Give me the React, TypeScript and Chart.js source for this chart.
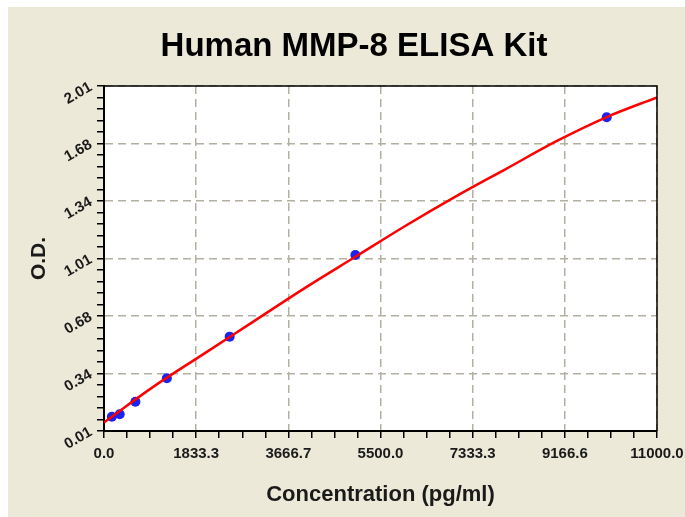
import React, { useEffect, useRef } from 'react';
import { Chart, registerables } from 'chart.js';

Chart.register(...registerables);

const titleText = 'Human MMP-8 ELISA Kit';
const xAxisTitle = 'Concentration (pg/ml)';
const yAxisTitle = 'O.D.';

// standard points
const stdConc = [156.25, 312.5, 625, 1250, 2500, 5000, 10000];
const stdOD = [0.093, 0.107, 0.18, 0.316, 0.557, 1.03, 1.829];

// fitted curve
const curveConc = [0, 1000, 2000, 3000, 4000, 5000, 6000, 7000, 8000, 9000, 10000, 11000];
const curveOD = [0.06, 0.27, 0.46, 0.65, 0.84, 1.02, 1.2, 1.37, 1.53, 1.69, 1.83, 1.944];

// axis ticks
const xTickValues = [0, 1833.33, 3666.67, 5500, 7333.33, 9166.67, 11000];
const xTickLabels = ['0.0', '1833.3', '3666.7', '5500.0', '7333.3', '9166.6', '11000.0'];
const yTickValues = [0.01, 0.3433, 0.6767, 1.01, 1.3433, 1.6767, 2.01];
const yTickLabels = ['0.01', '0.34', '0.68', '1.01', '1.34', '1.68', '2.01'];

const FONT = 'Arial, "Liberation Sans", sans-serif';

function buildTicks(values: number[], sub: number) {
  const out: any[] = [];
  for (let i = 0; i < values.length; i++) {
    out.push({ value: values[i], major: true, idx: i });
    if (i < values.length - 1) {
      const step = (values[i + 1] - values[i]) / sub;
      for (let k = 1; k < sub; k++) out.push({ value: values[i] + step * k, major: false });
    }
  }
  return out;
}

export default function App() {
  const ref = useRef<HTMLCanvasElement>(null);

  useEffect(() => {
    const bgPlugin = {
      id: 'bgPlugin',
      beforeDraw(chart: any) {
        const { ctx, chartArea: a, width, height } = chart;
        ctx.save();
        ctx.fillStyle = '#ECE9D8';
        ctx.fillRect(0, 0, width, height);
        ctx.fillStyle = '#ffffff';
        ctx.fillRect(a.left, a.top, a.right - a.left, a.bottom - a.top);
        ctx.restore();
      },
      afterDraw(chart: any) {
        const { ctx, chartArea: a } = chart;
        ctx.save();
        ctx.strokeStyle = '#000';
        ctx.lineWidth = 1.5;
        ctx.beginPath();
        ctx.moveTo(a.left, a.top);
        ctx.lineTo(a.right, a.top);
        ctx.lineTo(a.right, a.bottom);
        ctx.stroke();
        ctx.fillStyle = '#000';
        ctx.font = `bold 33px ${FONT}`;
        ctx.textAlign = 'center';
        ctx.textBaseline = 'middle';
        ctx.fillText(titleText, 346, 40);
        ctx.restore();
      },
    };

    const tickFont = { family: FONT, size: 15, weight: 'bold' as const };
    const gridColor = (c: any) => (c.tick && c.tick.major ? '#b3afa1' : 'rgba(0,0,0,0)');

    const chart = new Chart(ref.current as HTMLCanvasElement, {
      type: 'scatter',
      data: {
        datasets: [
          {
            label: 'curve',
            data: curveConc.map((x, i) => ({ x, y: curveOD[i] })),
            showLine: true,
            borderColor: '#ff0000',
            backgroundColor: '#ff0000',
            borderWidth: 2.5,
            pointRadius: 0,
            cubicInterpolationMode: 'monotone',
            fill: false,
          } as any,
          {
            label: 'standards',
            data: stdConc.map((x, i) => ({ x, y: stdOD[i] })),
            pointRadius: 5,
            pointBackgroundColor: '#1b23ef',
            pointBorderColor: '#1b23ef',
            pointBorderWidth: 0,
            showLine: false,
          } as any,
        ],
      },
      options: {
        animation: false,
        responsive: false,
        devicePixelRatio: 1,
        layout: { padding: { left: 0, right: 28, top: 79, bottom: 0 } },
        plugins: {
          legend: { display: false },
          tooltip: { enabled: false },
          title: { display: false },
        },
        scales: {
          x: {
            type: 'linear',
            min: 0,
            max: 11000,
            afterBuildTicks: (s: any) => { s.ticks = buildTicks(xTickValues, 4); },
            afterFit: (s: any) => { s.height = 86; s.paddingLeft = 0; s.paddingRight = 0; },
            ticks: {
              autoSkip: false,
              maxRotation: 0,
              minRotation: 0,
              padding: 7,
              color: '#1a1a1a',
              font: tickFont,
              callback: (_v: any, i: number, ticks: any[]) => {
                const t = ticks[i];
                return t && t.major ? xTickLabels[t.idx] : '';
              },
            },
            grid: {
              color: gridColor,
              lineWidth: 1.5,
              tickColor: '#000',
              tickLength: 7,
              tickWidth: 1.5,
            },
            border: { color: '#000', width: 2, dash: [8, 5] },
            title: {
              display: true,
              text: xAxisTitle,
              color: '#1a1a1a',
              font: { family: FONT, size: 22, weight: 'bold' },
              padding: { top: 0, bottom: 9 },
            },
          },
          y: {
            type: 'linear',
            min: 0.01,
            max: 2.01,
            afterBuildTicks: (s: any) => { s.ticks = buildTicks(yTickValues, 5); },
            afterFit: (s: any) => { s.width = 96; s.paddingTop = 0; s.paddingBottom = 0; },
            ticks: {
              autoSkip: false,
              minRotation: 30,
              maxRotation: 30,
              padding: 6,
              color: '#1a1a1a',
              font: tickFont,
              callback: (_v: any, i: number, ticks: any[]) => {
                const t = ticks[i];
                return t && t.major ? yTickLabels[t.idx] : '';
              },
            },
            grid: {
              color: gridColor,
              lineWidth: 1.5,
              tickColor: '#000',
              tickLength: 7,
              tickWidth: 1.5,
            },
            border: { color: '#000', width: 2, dash: [8, 5] },
            title: {
              display: true,
              text: yAxisTitle,
              color: '#1a1a1a',
              font: { family: FONT, size: 21, weight: 'bold' },
              padding: { top: 19, bottom: 0 },
            },
          },
        },
      } as any,
      plugins: [bgPlugin],
    });
    return () => chart.destroy();
  }, []);

  return (
    <div style={{ position: 'absolute', left: 0, top: 0, width: 685, height: 517, background: '#fff', overflow: 'hidden' }}>
      <canvas
        ref={ref}
        width={677}
        height={510}
        style={{ position: 'absolute', left: 8, top: 7, width: 677, height: 510, display: 'block' }}
      />
    </div>
  );
}
